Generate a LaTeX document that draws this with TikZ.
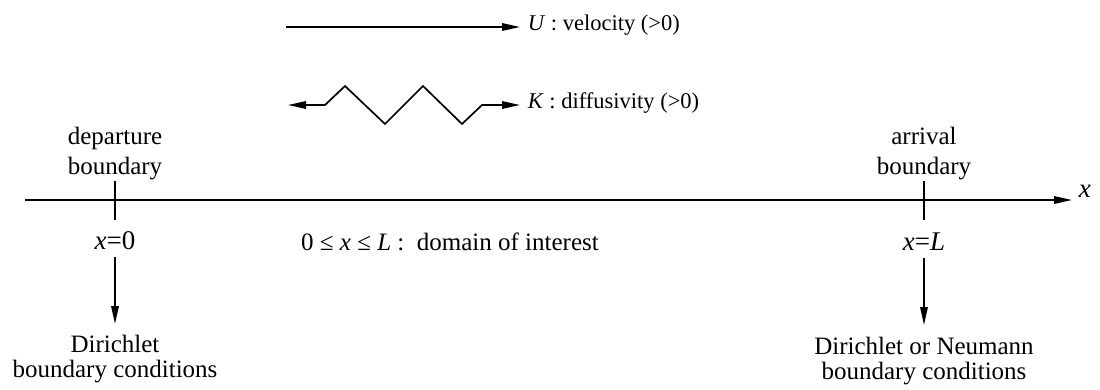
\documentclass[tikz,border=0pt]{standalone}
\usepackage{fontspec}
\setmainfont{Liberation Serif}
\usetikzlibrary{arrows.meta}
\begin{document}
\begin{tikzpicture}[x=1pt,y=-1pt,line width=1.7pt,
  >={Triangle[length=18pt,width=7.5pt]},
  toplbl/.style={font=\fontsize{25}{30}\selectfont,align=center,inner sep=0pt},
  botlbl/.style={font=\fontsize{25}{25}\selectfont,align=center,inner sep=0pt},
  big/.style={font=\fontsize{27}{30}\selectfont,inner sep=0pt},
  dombl/.style={font=\fontsize{25}{30}\selectfont,inner sep=0pt},
  side/.style={font=\fontsize{22.5}{26}\selectfont,inner sep=0pt,anchor=base west}]
\useasboundingbox (0,0) rectangle (1100,389);
% velocity arrow
\coordinate (ua) at (286,27);
\coordinate (ub) at (520,27);
\draw[->] (ua) -- (ub);
\node[side] (ulab) at (527,30) {\textit{U} : velocity (>0)};
% diffusivity zigzag
\coordinate (z1) at (288,105);
\coordinate (z2) at (325,105);
\coordinate (z3) at (345,86);
\coordinate (z4) at (385,124);
\coordinate (z5) at (423,86);
\coordinate (z6) at (462,124);
\coordinate (z7) at (482,105);
\coordinate (z8) at (520,105);
\draw[<->,line join=miter] (z1) -- (z2) -- (z3) -- (z4) -- (z5) -- (z6) -- (z7) -- (z8);
\node[side] (klab) at (527,108) {\textit{K} : diffusivity (>0)};
% axis
\coordinate (axl) at (25,200);
\coordinate (axr) at (1072,200);
\draw[->] (axl) -- (axr);
\node[big,anchor=base west] (xlab) at (1078,197) {\textit{x}};
% left boundary
\coordinate (t0a) at (115,181);
\coordinate (t0b) at (115,220);
\draw (t0a) -- (t0b);
\node[toplbl,anchor=south] (dep) at (115,181) {departure\\boundary};
\node[big,anchor=base] (x0) at (115,249) {\textit{x}=0};
\coordinate (a0s) at (115,257);
\coordinate (a0e) at (115,324);
\draw[->] (a0s) -- (a0e);
\node[botlbl,anchor=north] (dir) at (115,334) {Dirichlet\\boundary conditions};
% right boundary
\coordinate (tLa) at (924,181);
\coordinate (tLb) at (924,220);
\draw (tLa) -- (tLb);
\node[toplbl,anchor=south] (arr) at (924,181) {arrival\\boundary};
\node[big,anchor=base] (xL) at (924,250) {\textit{x}=\textit{L}};
\coordinate (aLs) at (924,258);
\coordinate (aLe) at (924,325);
\draw[->] (aLs) -- (aLe);
\node[botlbl,anchor=north] (neu) at (924,336) {Dirichlet or Neumann\\boundary conditions};
% domain
\node[dombl,anchor=base] (dom) at (450,250) {0 ≤ \textit{x} ≤ \textit{L} :\ \ domain of interest};
\end{tikzpicture}
\end{document}
